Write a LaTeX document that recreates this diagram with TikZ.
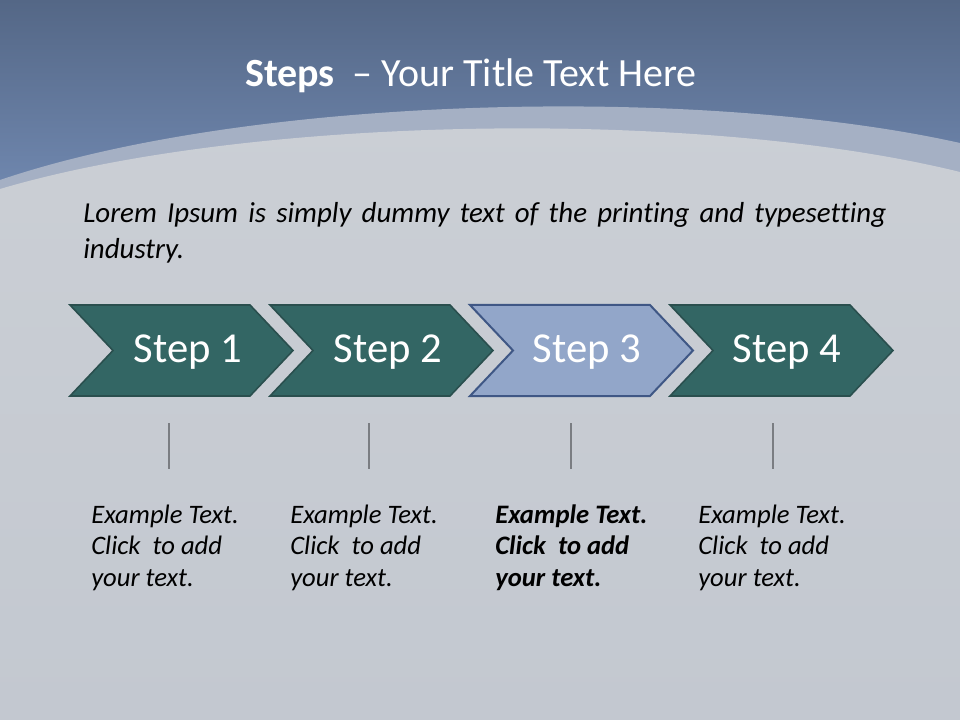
\documentclass[tikz,border=0pt]{standalone}
\usepackage{fontspec}
\setmainfont{Carlito}
\definecolor{topA}{HTML}{546786}
\definecolor{topB}{HTML}{7189B1}
\definecolor{bandC}{HTML}{A5B0C4}
\definecolor{bgA}{HTML}{CBCFD5}
\definecolor{bgB}{HTML}{C3C8D0}
\definecolor{teal}{HTML}{336664}
\definecolor{tealD}{HTML}{2A4F4E}
\definecolor{blueF}{HTML}{92A6C9}
\definecolor{blueD}{HTML}{3F5785}
\definecolor{tick}{HTML}{7A7D82}
\tikzset{
  chev/.style={fill=teal, draw=tealD, line width=1.2pt, line join=miter},
  chevhi/.style={fill=blueF, draw=blueD, line width=1.5pt, line join=miter},
  steplabel/.style={text=white, font=\fontsize{32}{38}\selectfont, inner sep=0pt, anchor=base},
  ticker/.style={draw=tick, line width=2.2pt},
  exnode/.style={inner sep=0pt, anchor=base west, font=\fontsize{20}{23.8}\selectfont\itshape},
}
\begin{document}
\begin{tikzpicture}[x=0.75pt,y=-0.75pt]
\useasboundingbox (0,0) rectangle (960,720);
% background
\shade[top color=topA, bottom color=topB] (0,0) rectangle (960,200);
\fill[bandC] (0,200) -- (0,180) .. controls (250,95) and (700,85) .. (960,143) -- (960,200) -- cycle;
\shade[top color=bgA, bottom color=bgB] (0,720) -- (0,189) .. controls (250,115) and (700,108) .. (960,172) -- (960,720) -- cycle;
% title
\node[text=white, inner sep=0pt, anchor=base, font=\fontsize{30}{36}\selectfont] (title) at (471,87) {\textbf{Steps}\ \ – Your Title Text Here};
% lorem
\node[inner sep=0pt, anchor=base west, font=\fontsize{21.7}{26.5}\selectfont\itshape\addfontfeatures{Ligatures=NoCommon}] (lorem) at (83,223)
  {\parbox[t]{602.25pt}{\spaceskip=0.25em plus 1em minus 0.1em Lorem Ipsum is simply dummy text of the printing and typesetting industry.}};
% chevrons
\foreach \i/\st in {0/chev,1/chev,2/chevhi,3/chev}{
  \path[\st] ({70+200*\i},305) -- ({250+200*\i},305) -- ({293+200*\i},350.5) -- ({250+200*\i},396) -- ({70+200*\i},396) -- ({113+200*\i},350.5) -- cycle;
}
\node[steplabel] (s1) at (188,362) {Step 1};
\node[steplabel] (s2) at (388,362) {Step 2};
\node[steplabel] (s3) at (587,362) {Step 3};
\node[steplabel] (s4) at (787,362) {Step 4};
% ticks
\foreach \x [count=\k] in {169,369,571,773}{
  \coordinate (t\k a) at (\x,423);
  \coordinate (t\k b) at (\x,469);
  \draw[ticker] (t\k a) -- (t\k b);
}
% example texts
\node[exnode] (e1) at (91,523) {\parbox[t]{150pt}{Example Text.\\Click\ \ to add\\your text.}};
\node[exnode] (e2) at (290,523) {\parbox[t]{150pt}{Example Text.\\Click\ \ to add\\your text.}};
\node[exnode, font=\fontsize{20}{23.8}\selectfont\itshape\bfseries] (e3) at (495,523) {\parbox[t]{150pt}{Example Text.\\Click\ \ to add\\your text.}};
\node[exnode] (e4) at (698,523) {\parbox[t]{150pt}{Example Text.\\Click\ \ to add\\your text.}};
\end{tikzpicture}
\end{document}
